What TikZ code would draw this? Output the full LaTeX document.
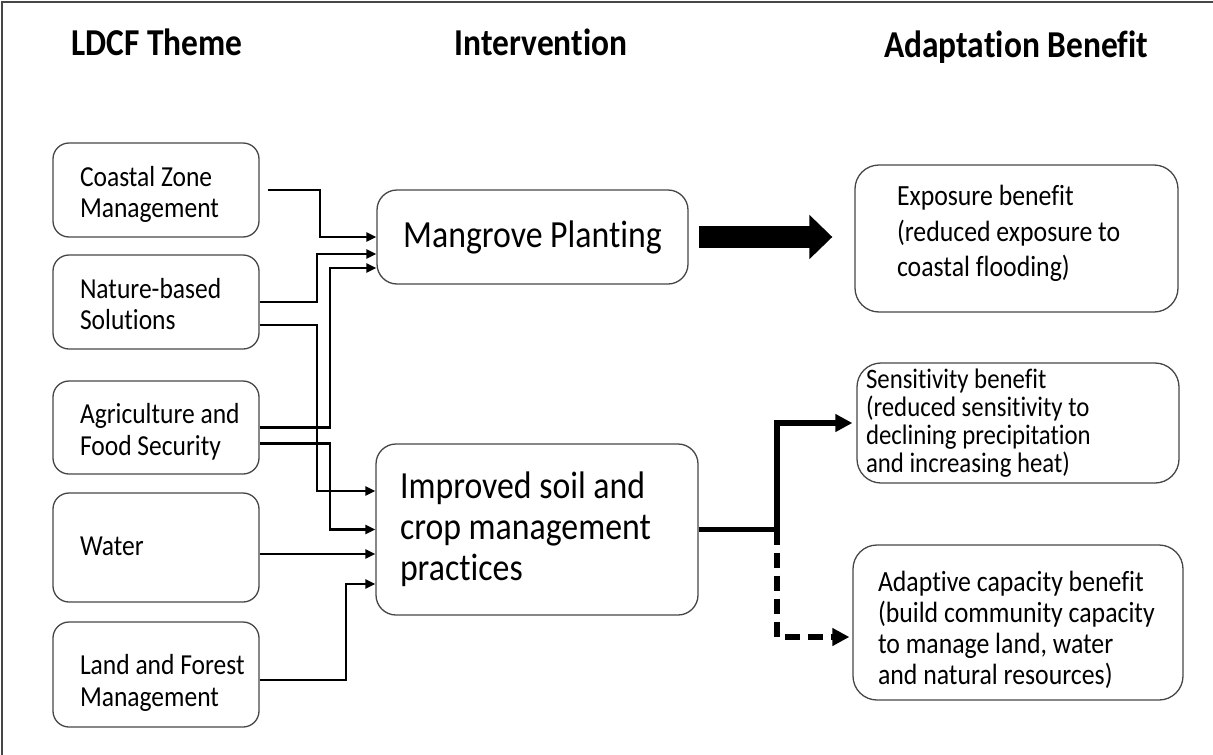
\documentclass[tikz,border=0pt]{standalone}
\usepackage{fontspec}
\setmainfont[FakeStretch=0.88, Ligatures=NoCommon]{Carlito}
\usetikzlibrary{calc,positioning,arrows.meta}

\definecolor{boxline}{RGB}{70,70,70}
\tikzset{
  pad/.style={execute at begin node={\leftskip=#1\relax}},
  box/.style={draw=boxline, line width=1.3pt, inner xsep=6pt, inner ysep=0pt, align=flush left},
  theme/.style={box, rounded corners=16pt, minimum width=206pt, text width=194pt, pad=21pt, font=\fontsize{29}{31.5}\selectfont},
  interv/.style={box, rounded corners=20pt, font=\fontsize{38.4}{41}\selectfont},
  benefit/.style={box, rounded corners=24pt, font=\fontsize{29.3}{32.5}\selectfont},
  heading/.style={anchor=base, font=\bfseries\fontsize{38}{40}\selectfont},
  link/.style={line width=2.8pt, -{Triangle[length=10pt,width=9pt]}},
  biglink/.style={line width=5.5pt, -{Triangle[length=17pt,width=17pt]}},
  blockarrow/.style={line width=22pt, -{Triangle[length=23pt,width=43pt]}}
}

\begin{document}
\begin{tikzpicture}[x=1pt,y=-1pt]
  \useasboundingbox (0,0) rectangle (1213,755);
  \draw [boxline, line width=1.5pt] (2,755) -- (2,2) -- (1213,2);

  \node (hd1) at (157,55) [heading] {LDCF Theme};
  \node (hd2) at (541,55) [heading] {Intervention};
  \node (hd3) at (1016,57) [heading] {Adaptation Benefit};

  \foreach \nm/\y/\h/\th/\td/\txt in {coastal/190/94/25/33/{Coastal Zone\\Management},
                                      nature/302/94/25/33/{Nature-based\\Solutions},
                                      agri/427.5/93/25/33/{Agriculture and\\Food Security},
                                      water/547.5/109/20/5/{Water},
                                      land/674.5/105/30/30/{Land and Forest\\Management}}
  {
    \node (\nm) at (156,\y) [theme, minimum height=\h pt, text height=\th pt, text depth=\td pt] {\txt};
  }

  \node (mang) at (532.5,237) [interv, minimum width=311pt, minimum height=94pt, text width=299pt, align=flush center] {Mangrove Planting};
  \node (impr) at (537,529.5) [interv, minimum width=322pt, minimum height=171pt, text width=310pt, pad=18pt] {Improved soil and\\crop management\\practices};

  \node (expo) at (1016.5,238.5) [benefit, minimum width=323pt, minimum height=147pt, text width=311pt, pad=36pt, font=\fontsize{29.3}{35.5}\selectfont, text height=20pt, text depth=86pt] {Exposure benefit\\(reduced exposure to\\coastal flooding)};
  \node (sens) at (1018,423) [benefit, minimum width=322pt, minimum height=120pt, text width=310pt, pad=3pt, font=\fontsize{28.2}{28}\selectfont] {Sensitivity benefit\\(reduced sensitivity to\\declining precipitation\\and increasing heat)};
  \node (adap) at (1018,622.5) [benefit, minimum width=330pt, minimum height=155pt, text width=318pt, pad=19pt, font=\fontsize{29.3}{31}\selectfont, text height=20pt, text depth=83pt] {Adaptive capacity benefit\\(build community capacity\\to manage land, water\\and natural resources)};

  % bend points
  \coordinate (xa) at (320,0);
  \coordinate (xb) at (317,0);
  \coordinate (xc) at (330,0);
  \coordinate (xd) at (346,0);
  \coordinate (split) at (777,0);

  \draw [link, shorten <=8pt] (coastal.east) -| (xa |- mang.west) -- (mang.west);
  \draw [link] (nature.east) -| ($(xb |- mang.west)+(0,17)$) -- ($(mang.west)+(0,17)$);
  \draw [link] (agri.east) -| ($(xc |- mang.west)+(0,31)$) -- ($(mang.west)+(0,31)$);
  \draw [link] ($(nature.east)+(0,23)$) -| ($(xb |- impr.west)+(0,-38.5)$) -- ($(impr.west)+(0,-38.5)$);
  \draw [link] ($(agri.east)+(0,16)$) -| (xc |- impr.west) -- (impr.west);
  \draw [link] ($(water.east)+(0,6.5)$) -- ($(impr.west)+(0,24.5)$);
  \draw [link] ($(land.east)+(0,5.5)$) -| ($(xd |- impr.west)+(0,54.5)$) -- ($(impr.west)+(0,54.5)$);

  \draw [blockarrow, shorten <=10pt, shorten >=22pt] (mang.east) -- (mang.east -| expo.west);
  \draw [biglink, shorten >=4pt] (impr.east) -| (split |- sens.west) -- (sens.west);
  \draw [biglink, dash pattern=on 15pt off 8pt, shorten >=3pt] (split |- impr.east) |- ($(adap.west)+(0,14.5)$);
\end{tikzpicture}
\end{document}
